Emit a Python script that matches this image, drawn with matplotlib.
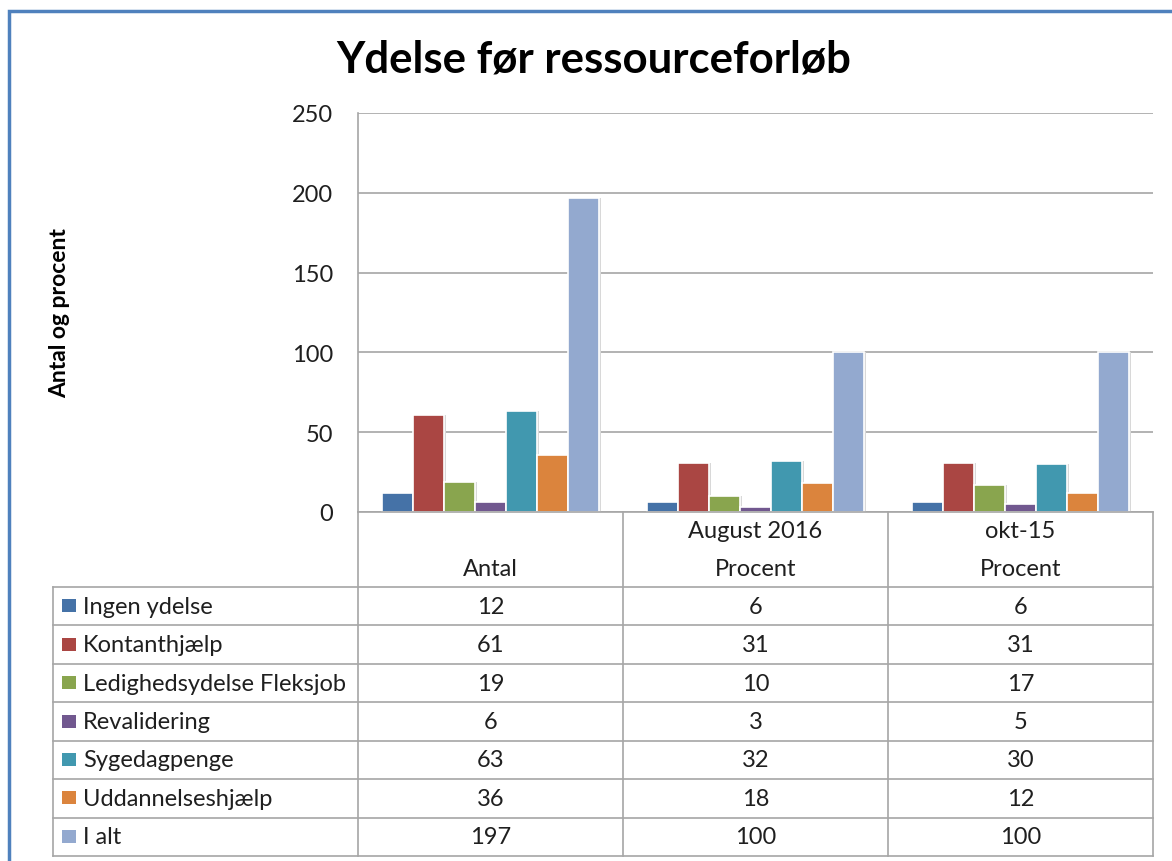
import matplotlib
matplotlib.use("Agg")
import matplotlib.pyplot as plt
from matplotlib.patches import Rectangle
from matplotlib.lines import Line2D
import numpy as np

plt.rcParams['font.family'] = ['Lato', 'DejaVu Sans']

title = "Ydelse før ressourceforløb"
ylabel = "Antal og procent"
col_top = ["", "August 2016", "okt-15"]
col_bottom = ["Antal", "Procent", "Procent"]
series = ["Ingen ydelse", "Kontanthjælp", "Ledighedsydelse Fleksjob",
          "Revalidering", "Sygedagpenge", "Uddannelseshjælp", "I alt"]
antal = [12, 61, 19, 6, 63, 36, 197]
aug2016 = [6, 31, 10, 3, 32, 18, 100]
okt15 = [6, 31, 17, 5, 30, 12, 100]
colors = ["#4572A7", "#AA4643", "#89A54E", "#71588F", "#4198AF", "#DB843D", "#93A9CF"]
yticks = [0, 50, 100, 150, 200, 250]

values = np.array([antal, aug2016, okt15])  # shape (3 categories, 7 series)

W, H = 1172, 862
fig = plt.figure(figsize=(W / 100, H / 100), dpi=100)

def fx(px):
    return px / W

def fy(py):
    return 1 - py / H

FS = 17
TXT = "#1F1F1F"

# plot area
pl, pr, pt, pb = 358, 1153, 114, 513
ax = fig.add_axes([fx(pl), fy(pb), fx(pr - pl), (pb - pt) / H])
ncat = values.shape[0]
nser = values.shape[1]
group = 0.82
bw = group / nser
x = np.arange(ncat)
for j in range(nser):
    offs = -group / 2 + bw * (j + 0.5)
    # subtle shadow
    ax.bar(x + offs + 0.006, values[:, j], width=bw, color="#D8D8D8",
           edgecolor="none", zorder=2)
    ax.bar(x + offs, values[:, j], width=bw, color=colors[j],
           edgecolor="white", linewidth=1.2, zorder=3)
ax.set_xlim(-0.5, ncat - 0.5)
ax.set_ylim(0, 250)
ax.set_yticks(yticks)
ax.set_yticklabels([str(t) for t in yticks], fontsize=FS, color=TXT)
ax.tick_params(axis='y', length=0, pad=18)
ax.set_xticks([])
ax.grid(axis='y', color="#A6A6A6", linewidth=1.2, zorder=0)
for s in ["top", "right", "bottom"]:
    ax.spines[s].set_visible(False)
ax.spines["left"].set_color("#A6A6A6")
ax.spines["left"].set_linewidth(1.2)
ax.set_facecolor("none")

# title and y label
fig.text(fx(594), fy(60), title, ha="center", va="center", fontsize=31.5,
         fontweight="bold", color="black")
fig.text(fx(60), fy(313), ylabel, ha="center", va="center", rotation=90,
         fontsize=16.5, fontweight="bold", color="black")

# data table
line_c = "#A6A6A6"
col_edges = [53, 358, 623, 888, 1153]
hdr_top, hdr_bot = 513, 588
row_h = (857 - 588) / nser
row_edges = [hdr_bot + row_h * i for i in range(nser + 1)]

def hline(x0, x1, y):
    fig.add_artist(Line2D([fx(x0), fx(x1)], [fy(y), fy(y)], color=line_c, lw=1.2))

def vline(xp, y0, y1):
    fig.add_artist(Line2D([fx(xp), fx(xp)], [fy(y0), fy(y1)], color=line_c, lw=1.2))

hline(pl, pr, hdr_top)
for yv in row_edges:
    hline(col_edges[0], col_edges[-1], yv)
vline(col_edges[0], row_edges[0], row_edges[-1])
for xv in col_edges[1:]:
    vline(xv, hdr_top, row_edges[-1])

for i in range(ncat):
    cx = (col_edges[i + 1] + col_edges[i + 2]) / 2
    if col_top[i]:
        fig.text(fx(cx), fy(531), col_top[i], ha="center", va="center",
                 fontsize=FS, color=TXT)
    fig.text(fx(cx), fy(569), col_bottom[i], ha="center", va="center",
             fontsize=FS, color=TXT)

for j in range(nser):
    cy = (row_edges[j] + row_edges[j + 1]) / 2
    fig.add_artist(Rectangle((fx(62), fy(cy + 6)), fx(14), 13 / H,
                             facecolor=colors[j], edgecolor="none"))
    fig.text(fx(83), fy(cy), series[j], ha="left", va="center",
             fontsize=FS, color=TXT)
    for i in range(ncat):
        cx = (col_edges[i + 1] + col_edges[i + 2]) / 2
        fig.text(fx(cx), fy(cy), str(values[i, j]), ha="center", va="center",
                 fontsize=FS, color=TXT)

# outer blue frame (extends beyond the image on right and bottom)
fig.add_artist(Rectangle((fx(8.5), fy(H + 20)), fx(W + 20), (H + 20 - 11.5) / H,
                         facecolor="none", edgecolor="#4F81BD", linewidth=2.5))

fig.savefig("out.png", dpi=100)
